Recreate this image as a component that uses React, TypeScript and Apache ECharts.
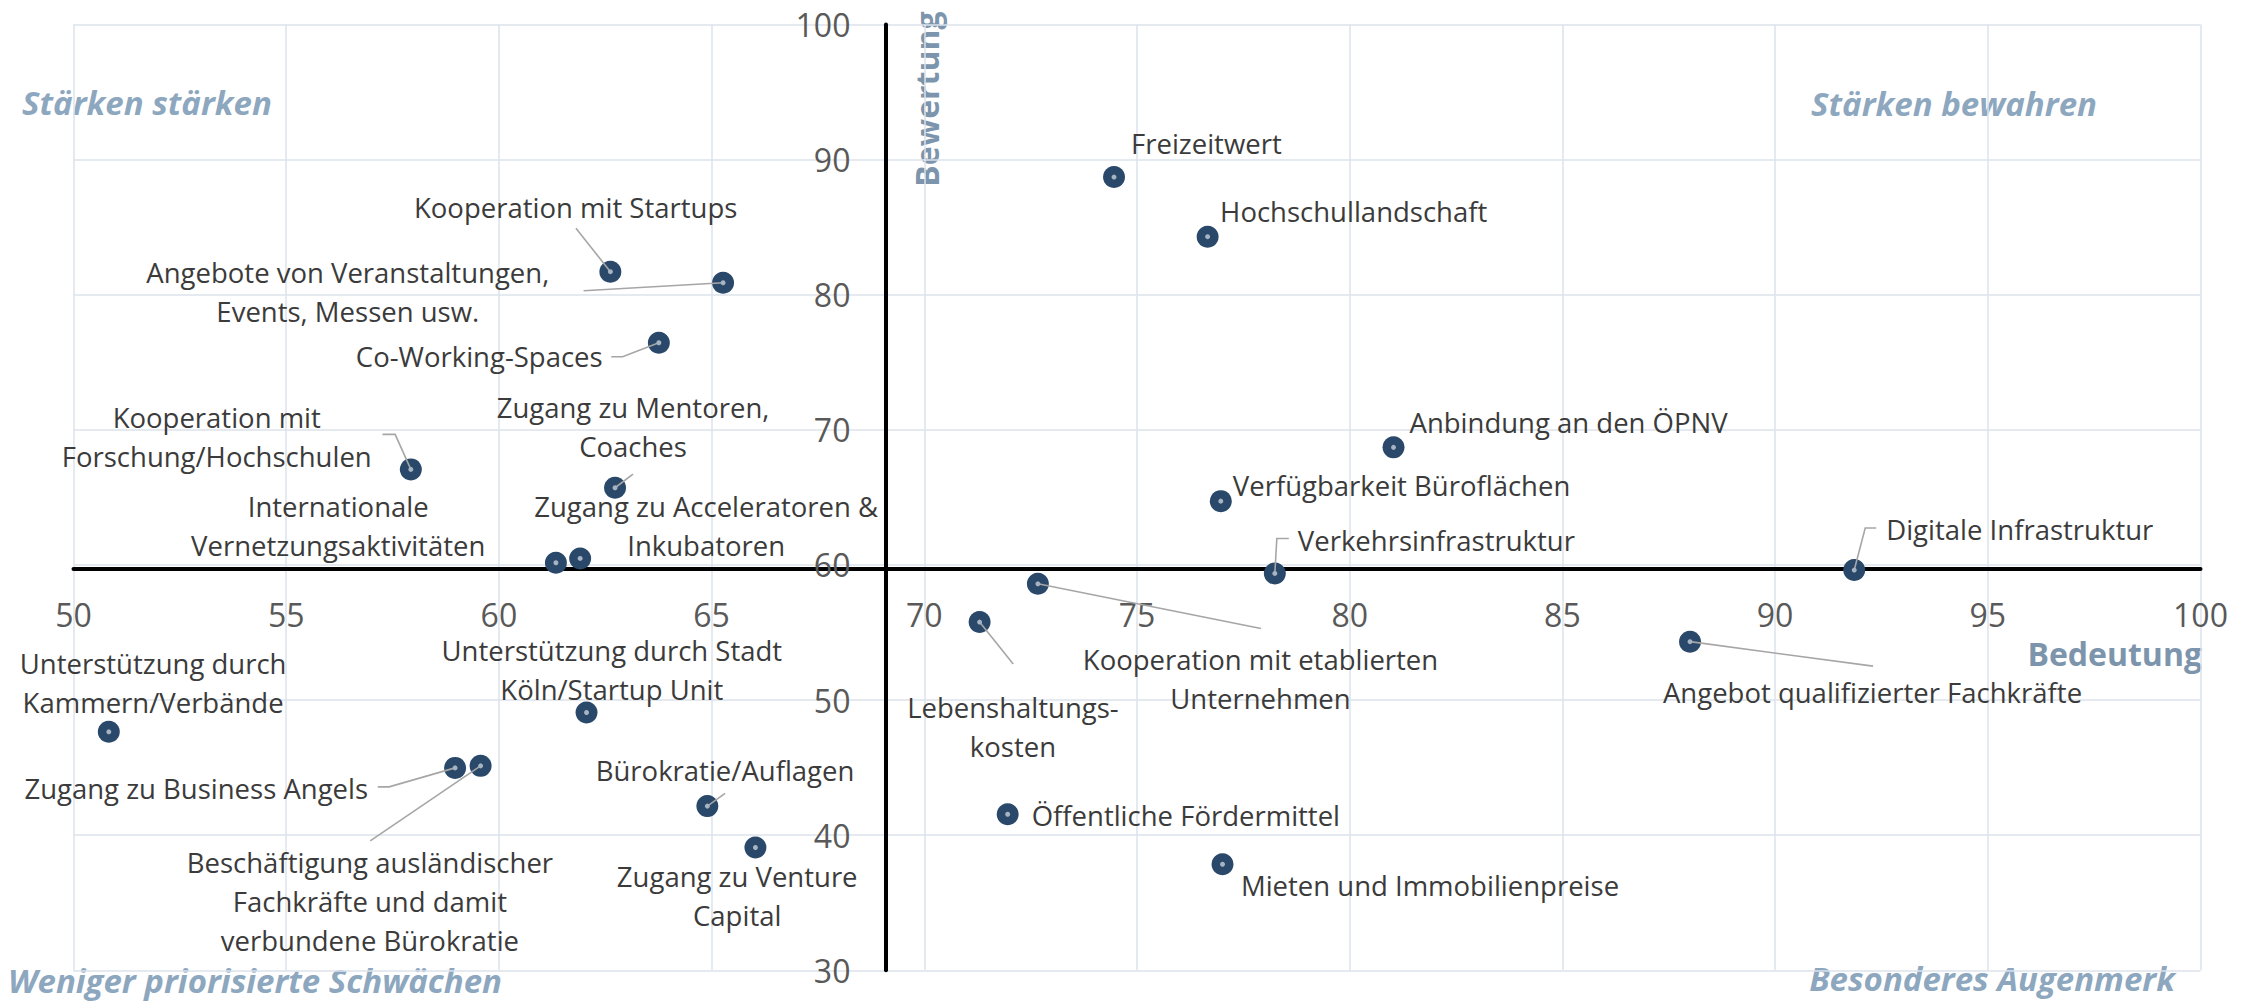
import React, { useEffect, useRef } from "react";
import * as echarts from "echarts";

// ---- data ----
const names: string[] = [
  "Freizeitwert",
  "Hochschullandschaft",
  "Anbindung an den ÖPNV",
  "Verfügbarkeit Büroflächen",
  "Verkehrsinfrastruktur",
  "Digitale Infrastruktur",
  "Angebot qualifizierter Fachkräfte",
  "Kooperation mit etablierten\nUnternehmen",
  "Lebenshaltungs-\nkosten",
  "Öffentliche Fördermittel",
  "Mieten und Immobilienpreise",
  "Kooperation mit Startups",
  "Angebote von Veranstaltungen,\nEvents, Messen usw.",
  "Co-Working-Spaces",
  "Kooperation mit\nForschung/Hochschulen",
  "Zugang zu Mentoren,\nCoaches",
  "Internationale\nVernetzungsaktivitäten",
  "Zugang zu Acceleratoren &\nInkubatoren",
  "Unterstützung durch\nKammern/Verbände",
  "Unterstützung durch Stadt\nKöln/Startup Unit",
  "Zugang zu Business Angels",
  "Beschäftigung ausländischer\nFachkräfte und damit\nverbundene Bürokratie",
  "Bürokratie/Auflagen",
  "Zugang zu Venture\nCapital",
];
const bedeutung: number[] = [
  74.46, 76.66, 81.03, 76.97, 78.24, 91.86, 88.0, 72.67, 71.3, 71.96, 77.01,
  62.62, 65.27, 63.76, 57.93, 62.73, 61.34, 61.91, 50.83, 62.06, 58.97, 59.57, 64.9, 66.03,
];
const bewertung: number[] = [
  88.7, 84.29, 68.7, 64.72, 59.37, 59.62, 54.32, 58.6, 55.77, 41.55, 37.85,
  81.7, 80.88, 76.44, 67.07, 65.71, 60.16, 60.48, 47.65, 49.08, 44.98, 45.13, 42.15, 39.09,
];
const xTicks = { min: 50, max: 100, interval: 5 };
const yTicks = { min: 30, max: 100, interval: 10 };
const quadrantTitles = {
  tl: "Stärken stärken",
  tr: "Stärken bewahren",
  bl: "Weniger priorisierte Schwächen",
  br: "Besonderes Augenmerk",
};
const xAxisTitle = "Bedeutung";
const yAxisTitle = "Bewertung";

// ---- label layout (pixel offsets relative to each marker) ----
type LabelPos = { align: "left" | "center" | "right"; off: [number, number]; leader?: [number, number][] };
const labelPos: LabelPos[] = [
  { align: "left", off: [17, -34] },
  { align: "left", off: [12.5, -25] },
  { align: "left", off: [16, -25] },
  { align: "left", off: [12, -16] },
  { align: "left", off: [23, -33], leader: [[2, -35], [14, -35]] },
  { align: "left", off: [32, -41], leader: [[11, -42], [22, -42]] },
  { align: "center", off: [182.5, 50.5], leader: [[183, 24.5]] },
  { align: "center", off: [222.6, 94.8], leader: [[223, 44.6]] },
  { align: "center", off: [33.3, 105.3], leader: [[33.6, 42]] },
  { align: "left", off: [24, 1] },
  { align: "left", off: [18.4, 21] },
  { align: "center", off: [-34.7, -64.4], leader: [[-34.4, -43.4]] },
  { align: "center", off: [-375.3, 9.3], leader: [[-139.5, 8]] },
  { align: "right", off: [-56.2, 14], leader: [[-36.2, 14], [-47.6, 14]] },
  { align: "center", off: [-194.1, -32.6], leader: [[-15.7, -35], [-28.4, -35]] },
  { align: "center", off: [18, -61.2], leader: [[18, -13.7]] },
  { align: "center", off: [-217.7, -37.2] },
  { align: "center", off: [126, -32.3] },
  { align: "center", off: [44.3, -48.7] },
  { align: "center", off: [25.3, -42] },
  { align: "right", off: [-87, 20.3], leader: [[-66, 19], [-77.3, 19]] },
  { align: "center", off: [-110.7, 136], leader: [[-110.4, 75]] },
  { align: "center", off: [17.7, -35.3], leader: [[17.7, -12.7]] },
  { align: "center", off: [-18.2, 48.7] },
];

const W = 2254;
const H = 1001;
const GRID = { left: 73.5, right: 53.5, top: 24.4, bottom: 30.7 };
const FONT = "'Open Sans', 'Noto Sans', sans-serif";
const TITLE_COLOR = "#8DA7BF";
const AXIS_TITLE_COLOR = "#7D95AC";

export default function App() {
  const ref = useRef<HTMLDivElement>(null);

  useEffect(() => {
    document.body.style.margin = "0";
    if (!ref.current) return;
    const chart = echarts.init(ref.current, null, { renderer: "svg" });

    const meanX = bedeutung.reduce((a, b) => a + b, 0) / bedeutung.length;
    const meanY = bewertung.reduce((a, b) => a + b, 0) / bewertung.length;
    const gw = W - GRID.left - GRID.right;
    const gh = H - GRID.top - GRID.bottom;
    const yAxisOffset = -((meanX - xTicks.min) / (xTicks.max - xTicks.min)) * gw;
    const xAxisOffset = -((meanY - yTicks.min) / (yTicks.max - yTicks.min)) * gh;

    const points = names.map((n, i) => ({
      name: n,
      value: [bedeutung[i], bewertung[i]],
      label: {
        align: labelPos[i].align,
        offset: labelPos[i].off,
      },
    }));
    const leaderData = names
      .map((_, i) => [bedeutung[i], bewertung[i], i])
      .filter((d) => !!labelPos[d[2] as number].leader);

    const splitLine = { show: true, lineStyle: { color: "#DCE3EC", width: 1.5 } };

    const titleStyle = {
      fill: TITLE_COLOR,
      fontSize: 33,
      fontWeight: "bold",
      fontStyle: "italic",
      fontFamily: FONT,
      verticalAlign: "middle",
    };

    const option: any = {
      animation: false,
      backgroundColor: "#ffffff",
      grid: { ...GRID, containLabel: false },
      xAxis: {
        type: "value",
        ...xTicks,
        position: "bottom",
        offset: xAxisOffset,
        axisLine: { show: true, onZero: false, lineStyle: { color: "#000", width: 4 } },
        axisTick: { show: false },
        axisLabel: { color: "#595959", fontSize: 32, fontFamily: FONT, margin: 30 },
        splitLine,
      },
      yAxis: {
        type: "value",
        ...yTicks,
        position: "left",
        offset: yAxisOffset,
        axisLine: { show: true, onZero: false, lineStyle: { color: "#000", width: 4 } },
        axisTick: { show: false },
        axisLabel: { color: "#595959", fontSize: 32, fontFamily: FONT, margin: 35 },
        splitLine,
      },
      series: [
        {
          type: "scatter",
          z: 2,
          symbol: "circle",
          symbolSize: 22,
          itemStyle: { color: "#2A4869", opacity: 1 },
          data: points,
          label: {
            show: true,
            position: "inside",
            formatter: (p: any) => p.name,
            color: "#3B3B3B",
            fontSize: 27.5,
            fontFamily: FONT,
            lineHeight: 39,
            verticalAlign: "middle",
            textBorderWidth: 0,
          },
        },
        {
          type: "custom",
          z: 3,
          silent: true,
          clip: false,
          encode: { x: 0, y: 1 },
          data: leaderData,
          renderItem: (params: any, api: any) => {
            const i = api.value(2);
            const c = api.coord([api.value(0), api.value(1)]);
            const rel = labelPos[i].leader || [];
            const pts = [c, ...rel.map((r) => [c[0] + r[0], c[1] + r[1]])];
            return {
              type: "polyline",
              shape: { points: pts },
              style: { stroke: "#A6A6A6", lineWidth: 1.6, fill: "none" },
            };
          },
        },
        {
          type: "scatter",
          z: 4,
          silent: true,
          symbol: "circle",
          symbolSize: 5,
          itemStyle: { color: "#A5B3C2", opacity: 1 },
          data: names.map((_, i) => [bedeutung[i], bewertung[i]]),
        },
      ],
      graphic: [
        { type: "text", x: 22, y: 102, style: { ...titleStyle, text: quadrantTitles.tl, align: "left" } },
        { type: "text", x: 2097, y: 103, style: { ...titleStyle, text: quadrantTitles.tr, align: "right" } },
        { type: "text", x: 8, y: 980, style: { ...titleStyle, text: quadrantTitles.bl, align: "left" } },
        { type: "text", x: 2175, y: 978, style: { ...titleStyle, text: quadrantTitles.br, align: "right" } },
        {
          type: "text",
          x: 926,
          y: 99,
          rotation: Math.PI / 2,
          style: {
            text: yAxisTitle,
            fill: AXIS_TITLE_COLOR,
            fontSize: 32,
            fontWeight: "bold",
            fontFamily: FONT,
            align: "center",
            verticalAlign: "middle",
          },
        },
        {
          type: "text",
          x: 2202,
          y: 653,
          style: {
            text: xAxisTitle,
            fill: AXIS_TITLE_COLOR,
            fontSize: 32,
            fontWeight: "bold",
            fontFamily: FONT,
            align: "right",
            verticalAlign: "middle",
          },
        },
      ],
    };

    chart.setOption(option);
    return () => {
      chart.dispose();
    };
  }, []);

  return <div ref={ref} style={{ width: W, height: H }} />;
}
